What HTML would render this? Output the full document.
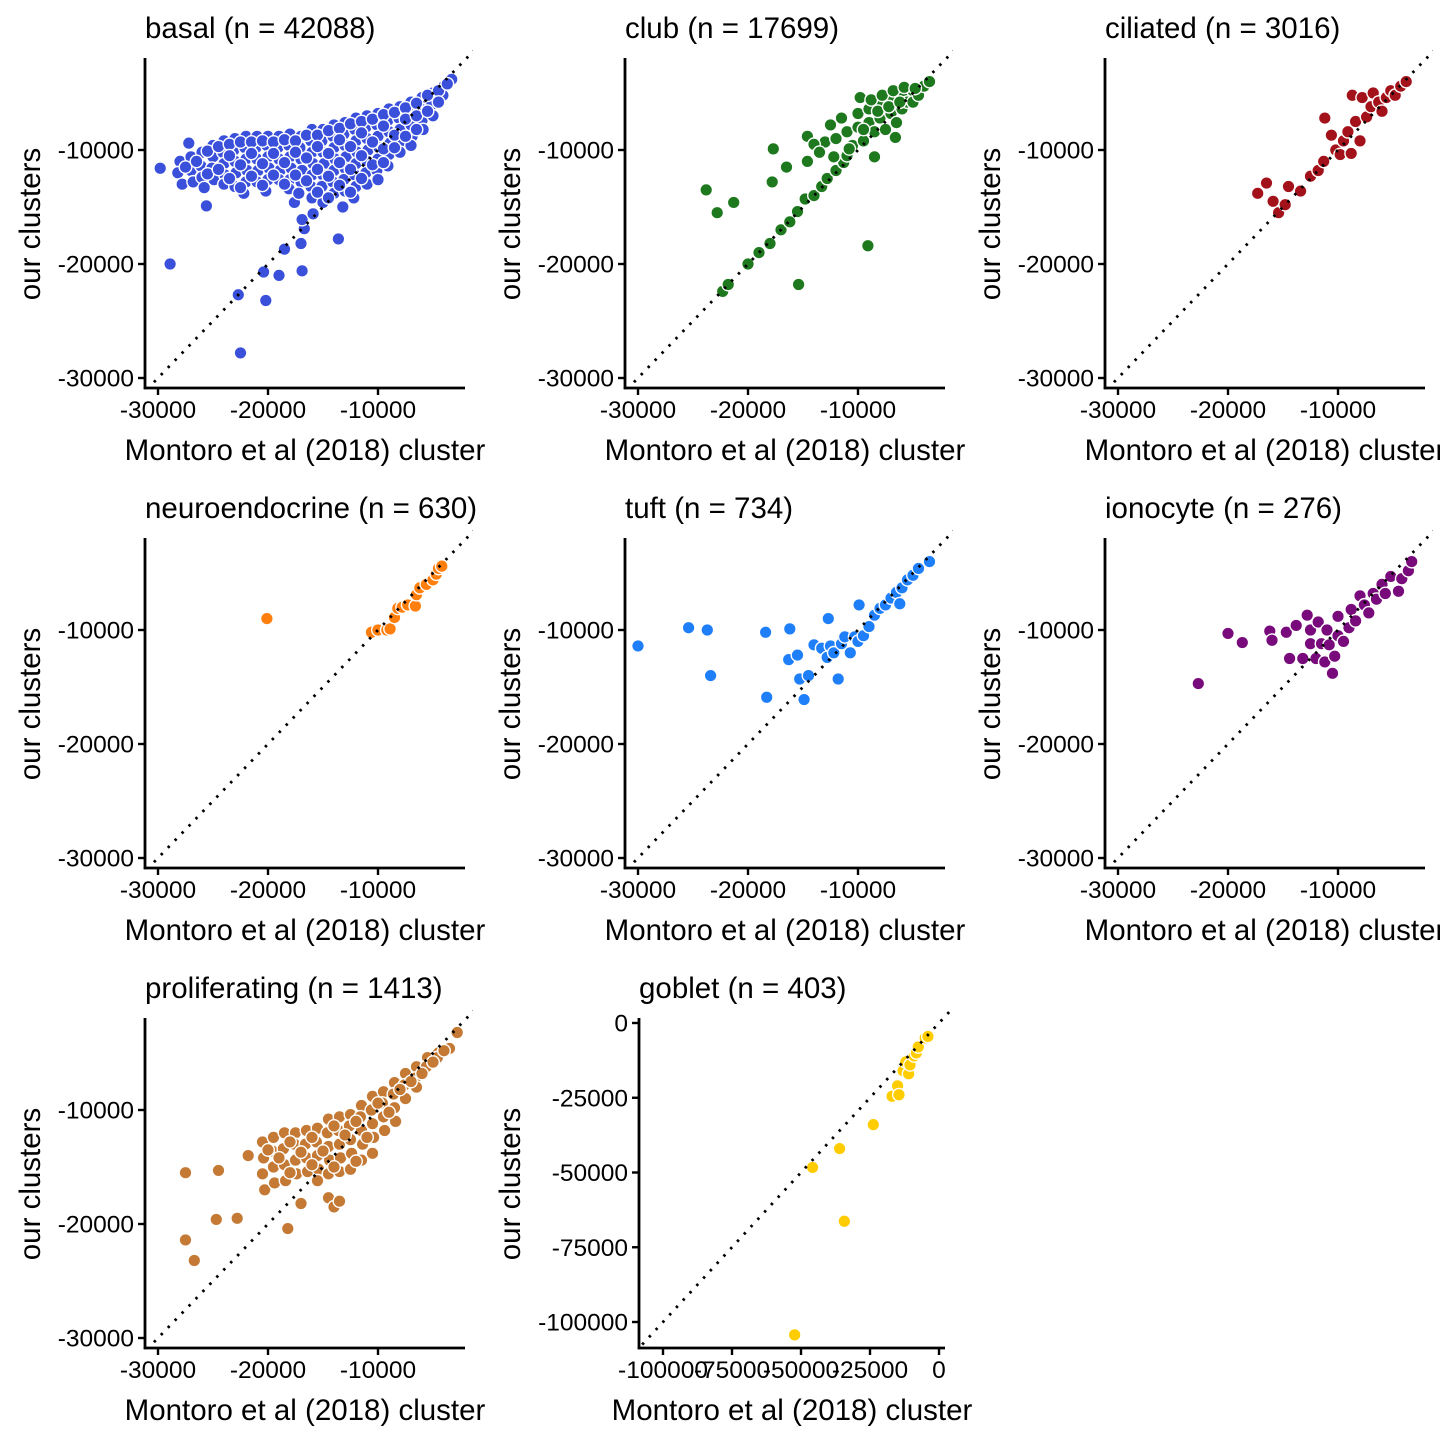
<!DOCTYPE html>
<html><head><meta charset="utf-8">
<style>
html,body{margin:0;padding:0;background:#fff;width:1440px;height:1440px;overflow:hidden}
svg{display:block}
text{font-family:"Liberation Sans",Arial,sans-serif;fill:#000}
</style></head>
<body>
<svg id="chart" width="1440" height="1440" viewBox="0 0 1440 1440"></svg>
<script>
// ---- data (values in thousands) ----
const panelTitles = ["basal (n = 42088)","club (n = 17699)","ciliated (n = 3016)","neuroendocrine (n = 630)","tuft (n = 734)","ionocyte (n = 276)","proliferating (n = 1413)","goblet (n = 403)"];
const panelColors = ["#3a50da","#1e781e","#a3121a","#ff7f0e","#1e7ff8","#780a7c","#c47a35","#ffcc00"];
const stdTicks = [-30000,-20000,-10000];
const gobletTicks = [-100000,-75000,-50000,-25000,0];

const basalPts = [[-29.8,-11.6],[-28.9,-20],[-27.2,-9.4],[-25.6,-14.9],[-22.7,-22.7],[-22.5,-27.8],[-20.4,-20.7],[-20.2,-23.2],[-19,-21],[-18.5,-18.7],[-16.9,-20.6],[-17,-18.2],[-16.7,-16.9],[-13.6,-17.8],[-16.9,-16.1],[-15.9,-15.6],[-17.6,-14.6],
[-28,-11],[-28.2,-12],[-27.8,-13],[-27,-10.6],[-27,-11.8],[-26.8,-12.8],[-26,-10.2],[-26.1,-11.4],[-26,-12.4],[-25.8,-13.3],[-25,-9.6],[-25,-10.6],[-25.1,-11.6],[-24.9,-12.6],[-24,-9.2],[-24.1,-10.2],[-24,-11.2],[-23.9,-12.2],[-24,-13],[-23,-9],[-23.1,-10],[-23,-11],[-22.9,-12],[-23,-13.2],[-22,-8.8],[-22.1,-9.8],[-22,-10.8],[-21.9,-11.8],[-22,-12.8],[-22.2,-13.8],[-21,-8.8],[-21.1,-9.8],[-21,-10.8],[-20.9,-11.8],[-21,-12.8],[-20,-8.8],[-20.1,-9.6],[-20,-10.6],[-19.9,-11.6],[-20,-12.6],[-20.2,-13.6],[-19,-8.8],[-19.1,-9.8],[-19,-10.8],[-18.9,-11.8],[-19,-12.6],[-18,-8.6],[-18.1,-9.6],[-18,-10.6],[-17.9,-11.6],[-18,-12.6],[-18.1,-13.4],[-17,-8.8],[-17.1,-9.8],[-17,-10.8],[-16.9,-11.8],[-17,-12.8],[-17.2,-13.8],[-16,-8.2],[-16.1,-9.2],[-16,-10.2],[-15.9,-11.2],[-16,-12.2],[-16.1,-13.2],[-16,-14.2],[-15,-8.2],[-15.1,-9.2],[-15,-10.2],[-14.9,-11.2],[-15,-12.2],[-15.1,-13.2],[-15,-14.6],[-14,-7.8],[-14.1,-8.8],[-14,-9.8],[-13.9,-10.8],[-14,-11.8],[-14.1,-12.8],[-14,-13.8],[-13,-7.6],[-13.1,-8.6],[-13,-9.6],[-12.9,-10.6],[-13,-11.6],[-13.1,-12.6],[-13,-13.6],[-13.2,-15],[-12,-7.2],[-12.1,-8.2],[-12,-9.2],[-11.9,-10.2],[-12,-11.2],[-12.1,-12.2],[-12,-13.2],[-12.2,-14.2],[-11,-7],[-11.1,-8],[-11,-9],[-10.9,-10],[-11,-11],[-11.1,-12],[-11,-13],[-10,-6.8],[-10.1,-7.8],[-10,-8.8],[-9.9,-9.8],[-10,-10.8],[-10.1,-11.8],[-10,-12.6],[-9,-6.4],[-9.1,-7.4],[-9,-8.4],[-8.9,-9.4],[-9,-10.4],[-9.1,-11.4],[-8,-6.2],[-8.1,-7.2],[-8,-8.2],[-7.9,-9.2],[-8,-10.2],[-7,-5.8],[-7.1,-6.8],[-7,-7.8],[-6.9,-8.8],[-7,-9.6],[-6,-5.4],[-6.1,-6.4],[-6,-7.4],[-5.9,-8.2],[-5,-5],[-5.1,-6],[-5,-7],[-4,-4.4],[-4.1,-5.2],[-3.3,-3.8],
[-27.5,-11.5],[-26.5,-11],[-25.5,-10.1],[-25.5,-12.1],[-24.5,-9.7],[-24.5,-11.7],[-23.5,-9.5],[-23.5,-10.5],[-23.5,-12.5],[-22.5,-9.3],[-22.5,-11.3],[-22.5,-13.3],[-21.5,-9.3],[-21.5,-10.3],[-21.5,-12.3],[-20.5,-9.2],[-20.5,-11.2],[-20.5,-13.1],[-19.5,-9.3],[-19.5,-10.3],[-19.5,-12.2],[-18.5,-9.1],[-18.5,-11.1],[-18.5,-13],[-17.5,-9.2],[-17.5,-10.2],[-17.5,-12.2],[-16.5,-8.7],[-16.5,-10.7],[-16.5,-12.7],[-15.5,-8.7],[-15.5,-9.7],[-15.5,-11.7],[-15.5,-13.7],[-14.5,-8.3],[-14.5,-10.3],[-14.5,-12.3],[-14.5,-14.2],[-13.5,-8.1],[-13.5,-9.1],[-13.5,-11.1],[-13.5,-13.1],[-12.5,-7.7],[-12.5,-9.7],[-12.5,-11.7],[-12.5,-13.7],[-11.5,-7.5],[-11.5,-8.5],[-11.5,-10.5],[-11.5,-12.5],[-10.5,-7.3],[-10.5,-9.3],[-10.5,-11.3],[-9.5,-6.9],[-9.5,-7.9],[-9.5,-9.9],[-9.5,-11.1],[-8.5,-6.7],[-8.5,-8.7],[-8.5,-9.8],[-7.5,-6.3],[-7.5,-7.3],[-7.5,-8.8],[-6.5,-5.9],[-6.5,-7],[-6.5,-8.2],[-5.5,-5.2],[-5.5,-6.6],[-4.5,-4.8],[-4.5,-5.8],[-3.7,-4.2]];

const clubPts = [[-23.8,-13.5],[-22.8,-15.5],[-21.3,-14.6],[-22.3,-22.4],[-21.8,-21.8],[-17.7,-9.9],[-17.8,-12.8],[-16.5,-11.5],[-15.4,-21.8],[-9.1,-18.4],[-14.6,-8.8],[-14.6,-11],[-8.5,-10.6],[-6.6,-8.9],
[-20,-20],[-19,-19],[-18,-18.2],[-17,-17],[-16.2,-16.3],[-15.5,-15.4],[-14.8,-14.3],[-14,-14],[-13.3,-13.2],[-12.8,-12.5],[-12,-11.8],[-11.3,-11.1],[-11,-10.5],
[-13,-9.3],[-12,-9],[-12.5,-7.8],[-11.5,-7.2],[-11,-8.4],[-10.5,-9.6],[-10,-8],[-10,-6.8],[-9.5,-9.2],[-9,-7.6],[-9,-6.4],[-8.5,-8.4],[-8,-6],[-8,-7.2],[-7.5,-8.2],[-7,-5.6],[-7,-6.8],[-6.5,-7.6],[-6,-5.2],[-6,-6.4],[-5.5,-5.8],[-5,-4.8],[-5,-5.8],[-4.5,-5.2],[-4,-4.4],[-3.5,-4],[-14,-9.5],[-13.5,-10.2],[-12.2,-10.6],[-10.8,-9.9],[-9.8,-5.4],
[-8.8,-5.6],[-7.8,-5.2],[-6.8,-4.8],[-5.8,-4.5],[-9.5,-8.2],[-8.2,-6.6],[-7.2,-6.2],[-6.2,-5.8],[-4.8,-4.6]];

const ciliatedPts = [[-17.3,-13.8],[-16.5,-12.9],[-15.9,-14.5],[-14.5,-13.2],[-15.4,-15.5],[-14.8,-14.8],[-13.4,-13.6],[-12.5,-12.3],[-11.8,-11.8],[-11.3,-11],[-11.2,-7.2],[-10.6,-8.7],[-10.2,-10],[-9.8,-10.4],[-9.5,-9.2],[-9.1,-8.4],[-8.8,-10.3],[-8.7,-5.2],[-8.4,-7.5],[-8,-9.2],[-7.8,-5.4],[-7.4,-7.1],[-7,-6.2],[-6.8,-5],[-6.3,-5.8],[-6,-6.6],[-5.6,-5.4],[-5.2,-4.8],[-4.8,-5.2],[-4.3,-4.4],[-3.8,-4]];

const neuroPts = [[-20.1,-9],[-10.6,-10.2],[-10,-10],[-9.2,-10],[-8.9,-9.9],[-8.5,-8.9],[-8.2,-8.1],[-7.8,-8],[-7.3,-7.8],[-6.6,-7.9],[-6.5,-6.9],[-6.2,-6.3],[-5.6,-6],[-5,-5.6],[-4.7,-5.1],[-4.5,-4.6],[-4.2,-4.4]];

const tuftPts = [[-30,-11.4],[-25.4,-9.8],[-23.7,-10],[-23.4,-14],[-18.4,-10.2],[-18.3,-15.9],[-16.2,-9.9],[-16.3,-12.6],[-15.5,-12.2],[-15.3,-14.3],[-14.9,-16.1],[-14.5,-14],[-14,-11.3],[-13.3,-11.6],[-12.8,-12.4],[-12.7,-9],[-12.5,-11.4],[-12.2,-12],[-11.8,-14.3],[-11.5,-11.2],[-11.2,-10.6],[-10.7,-12],[-10.3,-10.6],[-10,-11],[-9.9,-7.8],[-9.5,-10.5],[-9,-9.7],[-8.5,-8.7],[-8,-8.1],[-7.5,-7.8],[-7,-7.2],[-6.5,-6.7],[-6.2,-7.7],[-6,-6.3],[-5.5,-5.6],[-5,-5.2],[-4.5,-4.6],[-3.5,-4]];

const ionoPts = [[-22.7,-14.7],[-20,-10.3],[-18.7,-11.1],[-16.2,-10.1],[-16,-10.9],[-14.7,-10.2],[-14.4,-12.5],[-13.8,-9.6],[-13.2,-12.5],[-12.8,-8.7],[-12.5,-11.2],[-12.5,-10],[-12,-12.5],[-11.8,-9.3],[-11.5,-11.2],[-11.2,-12.8],[-11,-10],[-10.8,-11.3],[-10.5,-13.8],[-10.3,-12.3],[-10,-10.5],[-10,-8.8],[-9.5,-11],[-9,-9.8],[-8.8,-8.2],[-8.4,-9.2],[-8,-7],[-7.6,-7.8],[-7.2,-8.5],[-6.8,-6.8],[-6.5,-7.3],[-6,-6],[-5.7,-6.8],[-5.2,-5.3],[-4.5,-6.6],[-4.2,-5.5],[-3.6,-4.8],[-3.3,-4]];

const prolifPts = [[-27.5,-15.5],[-27.5,-21.4],[-26.7,-23.2],[-24.5,-15.3],[-24.7,-19.6],[-22.8,-19.5],[-21.8,-14],[-18.2,-20.4],[-17,-18.2],[-14.5,-17.7],[-14,-18.5],[-13.5,-18],
[-20.5,-12.8],[-20.4,-14.2],[-20.5,-15.6],[-20.3,-17],[-19.5,-12.4],[-19.6,-13.6],[-19.5,-15],[-19.4,-16.4],[-18.5,-12],[-18.6,-13.4],[-18.5,-14.8],[-18.4,-16.2],[-17.5,-12],[-17.6,-13],[-17.5,-14.4],[-17.4,-15.6],[-16.5,-11.8],[-16.6,-13],[-16.5,-14.2],[-16.4,-15.4],[-15.5,-11.6],[-15.6,-12.8],[-15.5,-14],[-15.4,-15.2],[-15.5,-16.2],[-14.5,-10.8],[-14.6,-12],[-14.5,-13.2],[-14.4,-14.4],[-14.5,-15.6],[-13.5,-10.6],[-13.6,-11.8],[-13.5,-13],[-13.4,-14.2],[-13.5,-15.4],[-12.5,-10.4],[-12.6,-11.4],[-12.5,-12.6],[-12.4,-13.8],[-12.5,-15.2],[-11.5,-9.6],[-11.6,-10.6],[-11.5,-11.8],[-11.4,-13],[-11.5,-14.4],[-10.5,-8.8],[-10.6,-10],[-10.5,-11.2],[-10.4,-12.4],[-10.5,-13.8],[-9.5,-8.4],[-9.6,-9.4],[-9.5,-10.6],[-9.4,-11.8],[-8.5,-7.6],[-8.6,-8.6],[-8.5,-9.8],[-8.4,-11],[-7.5,-6.8],[-7.6,-7.8],[-7.5,-9],[-6.5,-6.2],[-6.6,-7.2],[-6.5,-8],[-5.5,-5.4],[-5.6,-6.2],[-4.5,-5],[-4.6,-5.4],[-3.5,-4.6],[-2.8,-3.2],
[-20,-13.5],[-19,-14.2],[-18,-12.8],[-17,-13.7],[-16,-12.4],[-15,-13.6],[-14,-11.4],[-13,-12.2],[-12,-11],[-11,-12.4],[-10,-9.4],[-9,-10.2],[-8,-8.2],[-7,-7.5],[-6,-6.8],[-5,-5.8],[-4,-4.8],[-18,-15.5],[-16,-14.8],[-14,-15],[-12,-14.5]];

const gobletPts = [[-52.3,-104.3],[-45.8,-48.3],[-36,-42],[-34.3,-66.3],[-23.8,-34],[-17,-24.5],[-15,-21],[-14.5,-24],[-13,-16],[-12,-13],[-11,-17],[-10.5,-14],[-9,-11],[-8.2,-10],[-7.5,-8],[-5,-5],[-4,-4.5]];

const allPts = [basalPts,clubPts,ciliatedPts,neuroPts,tuftPts,ionoPts,prolifPts,gobletPts];
const panelNames = ["basal","club","ciliated","neuroendocrine","tuft","ionocyte","proliferating","goblet"];

// ---- drawing ----
const NS = "http://www.w3.org/2000/svg";
const svg = document.getElementById("chart");
function mk(tag, attrs, parent){
  const e = document.createElementNS(NS, tag);
  for (const k in attrs) e.setAttribute(k, attrs[k]);
  (parent||svg).appendChild(e);
  return e;
}

allPts.forEach((pts, i) => {
  const col = i % 3, row = Math.floor(i / 3);
  const gob = i === 7;
  const g = mk("g", {});
  
  
  const top = 58 + row*480, bottom = 388 + row*480;
  const left = gob ? 639 : 145 + col*480, right = 465 + col*480;
  let sx, sy, ticks;
  if (!gob) {
    const x0 = 158 + col*480, y0 = 378 + row*480;
    sx = v => x0 + (v + 30000) * 0.011;
    sy = v => y0 - (v + 30000) * 0.0114;
    ticks = stdTicks;
  } else {
    sx = v => 939 + v * (276/100000);
    sy = v => 1023 - v * 0.00299;
    ticks = gobletTicks;
  }
  const cid = "clip" + i;
  const cp = mk("clipPath", {id: cid}, g);
  mk("rect", {x:left, y:top-8, width:right-left+8, height:bottom-top+8}, cp);
  const pg = mk("g", {"clip-path":"url(#"+cid+")"}, g);
  pts.forEach(p => {
    const c = mk("circle", {cx: sx(p[0]*1000), cy: sy(p[1]*1000), r: 6.3, fill: panelColors[i], stroke: "#fff", "stroke-width": 1.4}, pg);
    
    
  });
  const lo = gob ? -110000 : -31000, hi = gob ? 5000 : 0;
  const ln = mk("line", {x1:sx(lo), y1:sy(lo), x2:sx(hi), y2:sy(hi), stroke:"#000", "stroke-width":2.8, "stroke-dasharray":"2.5 7.5", "clip-path":"url(#"+cid+")"}, g);
  
  
  const ya = mk("line", {x1:left, y1:top, x2:left, y2:bottom+1.3, stroke:"#000", "stroke-width":2.8}, g);
  
  
  const xa = mk("line", {x1:left-1.3, y1:bottom, x2:right, y2:bottom, stroke:"#000", "stroke-width":2.8}, g);
  
  
  ticks.forEach(t => {
    const X = sx(t), Y = sy(t);
    mk("line", {x1:X, y1:bottom, x2:X, y2:bottom+7, stroke:"#000", "stroke-width":2.4}, g);
    const tx = mk("text", {x:X, y:bottom+30, "text-anchor":"middle", "font-size":"24.5"}, g);
    tx.textContent = String(t);
    
    
    mk("line", {x1:left-7, y1:Y, x2:left, y2:Y, stroke:"#000", "stroke-width":2.4}, g);
    const ty = mk("text", {x:left-11, y:Y+8.5, "text-anchor":"end", "font-size":"24.5"}, g);
    ty.textContent = String(t);
    
    
  });
  const tt = mk("text", {x: left, y: top-20, "font-size":"29.5"}, g);
  tt.textContent = panelTitles[i];
  
  
  const xt = mk("text", {x: gob ? 792 : 305 + col*480, y: bottom+72, "text-anchor":"middle", "font-size":"29.5"}, g);
  xt.textContent = "Montoro et al (2018) cluster";
  
  
  const ycx = col*480 + 40, ycy = (top+bottom)/2 + 1;
  const yt = mk("text", {x: ycx, y: ycy, "text-anchor":"middle", "font-size":"29.5", transform:"rotate(-90 "+ycx+" "+ycy+")"}, g);
  yt.textContent = "our clusters";
  
  
});
</script>
</body></html>
